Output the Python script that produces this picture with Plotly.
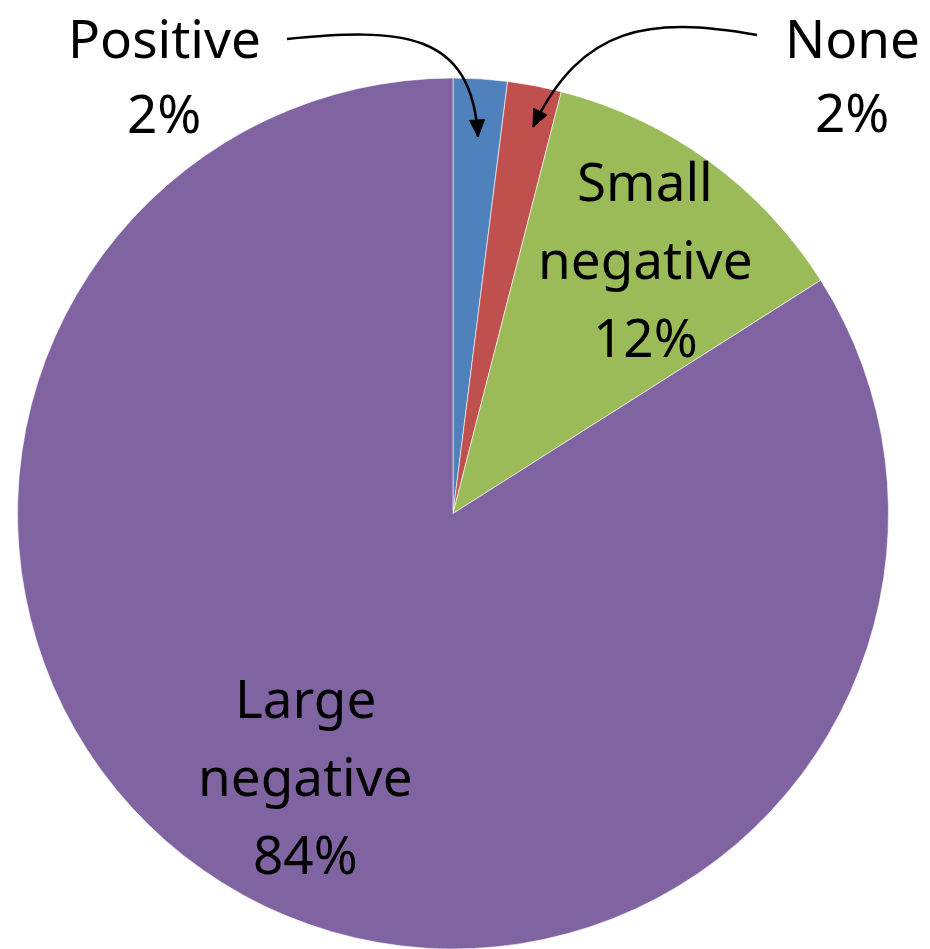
import plotly.graph_objects as go

# Share of outcomes by effect category
categories = ["Positive", "None", "Small negative", "Large negative"]
shares = [2, 2, 12, 84]
colors = ["#4F81BD", "#C0504D", "#9BBB59", "#8064A2"]

W, H = 930, 949
FONT = "Noto Sans"
FSIZE = 53


def px(x, y):
    """Pixel position -> paper coordinates."""
    return x / W, 1 - y / H


fig = go.Figure(
    go.Pie(
        labels=categories,
        values=shares,
        sort=False,
        direction="clockwise",
        rotation=0,
        textinfo="none",
        hoverinfo="label+percent",
        marker=dict(colors=colors, line=dict(color="white", width=0.6)),
        domain=dict(x=[16 / W, 890 / W], y=[0, 1 - 78 / H]),
        showlegend=False,
    )
)

# Label blocks: (category index, centre x px, first-line centre y px, line gap, lines)
label_layout = [
    (0, 164, 38, 74, ["Positive"]),
    (1, 852, 38, 73, ["None"]),
    (2, 645, 180, 78, ["Small", "negative"]),
    (3, 305, 697, 78, ["Large", "negative"]),
]

annotations = []
for idx, cx, cy, gap, words in label_layout:
    lines = words + [f"{shares[idx]}%"]
    for k, line in enumerate(lines):
        x, y = px(cx, cy + k * gap)
        annotations.append(
            dict(
                x=x, y=y, xref="paper", yref="paper",
                text=line, showarrow=False,
                xanchor="center", yanchor="middle",
                font=dict(family=FONT, size=FSIZE, color="black"),
            )
        )

# Curved leader arrows from the small-slice labels
shapes = []


def curved_arrow(p0, c1, c2, tip, head_len=17, head_w=7.5):
    pts = [p0, c1, c2, tip]
    pp = [px(*p) for p in pts]
    path = "M {},{} C {},{} {},{} {},{}".format(*[v for p in pp for v in p])
    shapes.append(
        dict(type="path", path=path, xref="paper", yref="paper",
             line=dict(color="black", width=2.5))
    )
    dx, dy = tip[0] - c2[0], tip[1] - c2[1]
    n = (dx * dx + dy * dy) ** 0.5
    ux, uy = dx / n, dy / n
    bx, by = tip[0] - head_len * ux, tip[1] - head_len * uy
    a = (bx - head_w * uy, by + head_w * ux)
    b = (bx + head_w * uy, by - head_w * ux)
    tri = [px(*tip), px(*a), px(*b)]
    tpath = "M {},{} L {},{} L {},{} Z".format(*[v for p in tri for v in p])
    shapes.append(
        dict(type="path", path=tpath, xref="paper", yref="paper",
             fillcolor="black", line=dict(color="black", width=1))
    )


curved_arrow((287, 39), (400, 28), (472, 30), (478, 137))
curved_arrow((757, 35), (650, 16), (582, 25), (533, 127))

fig.update_layout(
    width=W, height=H,
    margin=dict(l=0, r=0, t=0, b=0),
    paper_bgcolor="white",
    plot_bgcolor="white",
    annotations=annotations,
    shapes=shapes,
)

fig.write_html("out.html")
